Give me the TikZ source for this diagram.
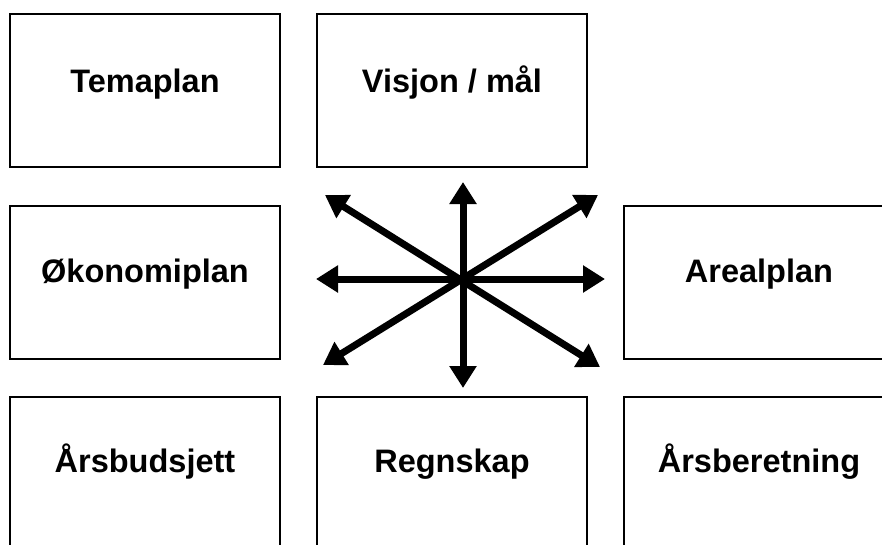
\documentclass[tikz,border=0pt]{standalone}
\usepackage{fontspec}
\setmainfont{Liberation Sans}
\usetikzlibrary{arrows.meta}
\begin{document}
\begin{tikzpicture}[x=1pt,y=-1pt,
  planbox/.style={draw=black,line width=2pt,fill=white,minimum width=270pt,minimum height=153pt,inner sep=0pt,anchor=north west},
  lab/.style={font=\fontsize{32.5}{36}\selectfont\bfseries,anchor=base,inner sep=0pt},
  bigarrow/.style={line width=7pt,{Triangle[length=22pt,width=26pt]}-{Triangle[length=22pt,width=26pt]}}]
\useasboundingbox (0,0) rectangle (882,544);
\node[planbox] (tema) at (9,13) {};
\node[planbox] (visjon) at (316,13) {};
\node[planbox] (okon) at (9,205) {};
\node[planbox] (areal) at (623,205) {};
\node[planbox] (budsjett) at (9,396) {};
\node[planbox] (regnskap) at (316,396) {};
\node[planbox] (beretning) at (623,396) {};
\node[lab] at ([yshift=-79pt]tema.north) {Temaplan};
\node[lab] at ([yshift=-79pt]visjon.north) {Visjon / mål};
\node[lab] at ([yshift=-77pt]okon.north) {Økonomiplan};
\node[lab] at ([yshift=-77pt]areal.north) {Arealplan};
\node[lab] at ([yshift=-76pt]budsjett.north) {Årsbudsjett};
\node[lab] at ([yshift=-76pt]regnskap.north) {Regnskap};
\node[lab] at ([yshift=-76pt]beretning.north) {Årsberetning};
\coordinate (c) at (463,279);
\coordinate (n) at (463,182);
\coordinate (s) at (463,388);
\coordinate (w) at (316,279);
\coordinate (e) at (605,279);
\coordinate (nw) at (325,195);
\coordinate (ne) at (598,195);
\coordinate (sw) at (323,365);
\coordinate (se) at (600,367);
\draw[bigarrow] (n) -- (s);
\draw[bigarrow] (w) -- (e);
\draw[bigarrow] (nw) -- (se);
\draw[bigarrow] (sw) -- (ne);
\end{tikzpicture}
\end{document}
